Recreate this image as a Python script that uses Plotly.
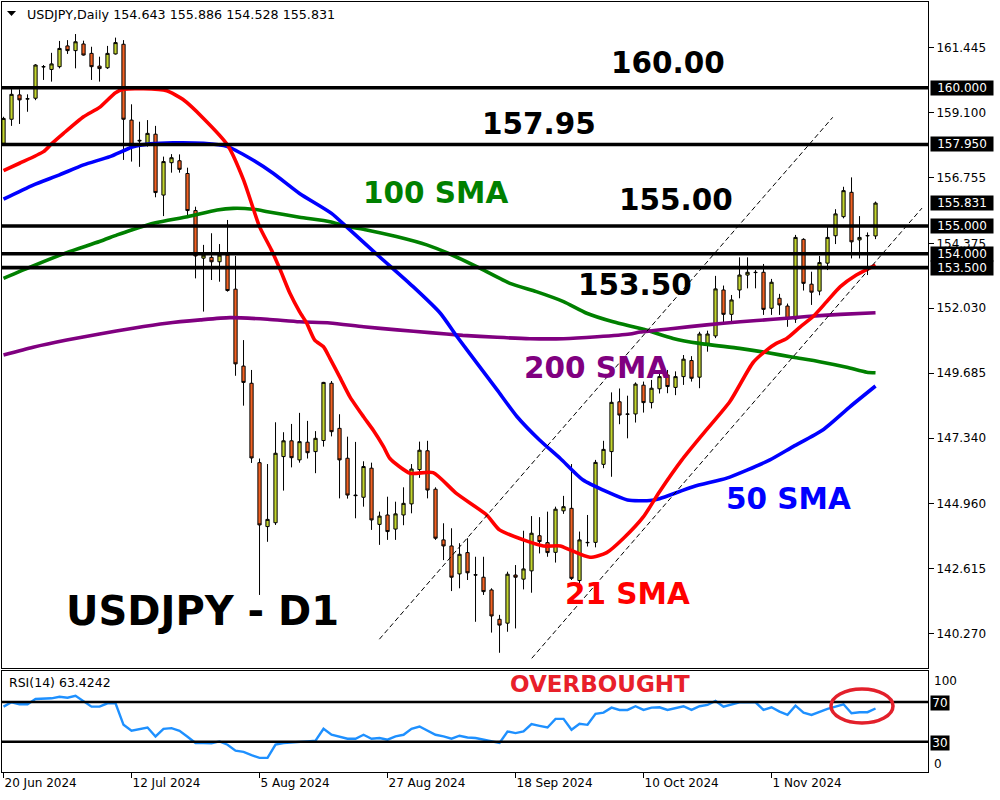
import pandas as pd
import plotly.graph_objects as go

# ---------------- data ----------------
dates = pd.bdate_range("2024-06-20", periods=110)
date_names = [f"{d.day} {d.strftime('%b %Y')}" for d in dates]

opens = [157.99, 158.86, 159.74, 159.59, 159.62, 160.75, 160.66, 160.76, 161.51, 161.34,
         161.58, 161.24, 160.78, 160.72, 161.22, 161.57, 158.83, 158.10, 157.93, 158.32,
         156.12, 157.29, 157.36, 156.90, 155.56, 153.84, 153.87, 153.71, 153.95, 152.72,
         149.94, 149.32, 146.45, 144.14, 144.28, 146.67, 147.24, 146.55, 147.19, 146.85,
         147.25, 149.32, 147.69, 146.61, 145.28, 145.20, 146.25, 144.22, 144.56, 144.05,
         144.56, 144.96, 146.20, 146.88, 145.49, 143.66, 143.44, 142.43, 143.20, 142.40,
         142.31, 141.85, 140.79, 140.65, 142.39, 142.24, 142.54, 143.81, 143.56, 143.21,
         144.71, 144.80, 142.19, 143.57, 143.57, 146.39, 146.85, 148.65, 148.21, 148.21,
         149.25, 148.62, 149.12, 149.62, 149.17, 149.56, 150.14, 149.54, 150.76, 151.03,
         152.69, 151.81, 152.69, 153.23, 153.33, 153.33, 152.03, 152.39, 152.11, 151.64,
         154.52, 152.90, 152.65, 153.66, 154.65, 155.34, 156.22, 154.50, 154.66, 154.643]
highs = [158.95, 159.95, 159.94, 159.76, 160.85, 160.82, 161.26, 161.69, 161.72, 161.94,
         161.70, 161.48, 161.12, 161.51, 161.81, 161.72, 159.40, 158.77, 158.83, 158.62,
         157.51, 157.60, 157.59, 157.11, 155.70, 154.32, 154.74, 154.35, 155.22, 153.92,
         150.88, 149.80, 146.60, 146.40, 147.91, 147.55, 147.85, 148.25, 147.96, 147.59,
         149.37, 149.40, 148.20, 147.39, 147.20, 146.50, 146.45, 144.68, 145.22, 145.04,
         145.56, 146.40, 147.21, 147.24, 145.56, 144.26, 144.08, 143.54, 143.72, 143.05,
         143.05, 141.91, 140.95, 142.51, 142.75, 143.99, 144.52, 144.48, 144.68, 144.86,
         145.25, 146.40, 143.96, 144.56, 146.55, 147.24, 148.99, 149.13, 148.87, 149.35,
         149.38, 149.44, 149.75, 149.80, 149.75, 150.34, 150.30, 151.18, 151.22, 153.20,
         152.85, 152.51, 153.87, 153.87, 153.41, 153.63, 153.09, 152.55, 152.20, 154.68,
         154.56, 153.35, 153.92, 154.96, 155.61, 156.42, 156.76, 155.36, 154.77, 155.886]
lows = [157.90, 158.62, 158.69, 159.13, 159.55, 160.28, 160.22, 160.70, 161.22, 160.70,
        161.16, 160.28, 160.22, 160.68, 161.20, 157.39, 157.33, 157.14, 157.87, 156.04,
        155.36, 156.93, 156.93, 155.40, 153.11, 151.91, 153.05, 152.99, 152.63, 149.59,
        148.51, 146.44, 141.67, 143.59, 144.20, 145.44, 146.28, 146.45, 146.60, 146.07,
        147.03, 147.40, 145.16, 145.15, 144.44, 144.86, 144.02, 143.48, 143.66, 143.66,
        144.19, 144.62, 145.90, 145.16, 143.66, 142.93, 141.81, 141.91, 142.21, 140.70,
        141.67, 140.31, 139.58, 140.34, 140.46, 141.87, 141.75, 143.17, 143.05, 142.84,
        144.60, 142.21, 142.00, 143.42, 143.39, 146.25, 145.94, 147.84, 147.33, 147.90,
        148.26, 148.41, 148.95, 148.96, 148.89, 149.26, 149.38, 149.14, 150.46, 150.95,
        151.48, 151.49, 152.39, 152.75, 152.75, 151.79, 151.79, 151.79, 151.36, 151.50,
        152.67, 152.15, 152.50, 153.41, 154.35, 155.28, 153.83, 153.83, 153.23, 154.528]
closes = [158.89, 159.76, 159.56, 159.60, 160.82, 160.76, 160.86, 161.42, 161.34, 161.66,
          161.18, 160.76, 160.69, 161.24, 161.63, 158.86, 157.87, 158.08, 158.35, 156.21,
          157.33, 157.47, 157.05, 155.56, 153.92, 153.95, 153.71, 153.95, 152.67, 150.02,
          149.35, 146.62, 144.20, 144.40, 146.79, 147.24, 146.63, 147.21, 146.81, 147.33,
          149.35, 147.57, 146.55, 145.28, 145.26, 146.31, 144.38, 144.52, 143.96, 144.60,
          144.98, 146.22, 146.90, 145.46, 143.72, 143.44, 142.31, 143.14, 142.47, 142.39,
          141.79, 140.91, 140.58, 142.42, 142.31, 142.61, 143.90, 143.60, 143.20, 144.77,
          144.86, 142.27, 143.66, 143.56, 146.46, 146.93, 148.63, 148.17, 148.20, 149.29,
          148.62, 149.14, 149.56, 149.20, 149.56, 150.19, 149.50, 151.10, 151.10, 152.73,
          151.81, 152.33, 153.23, 153.33, 153.32, 151.99, 152.97, 152.15, 151.64, 154.59,
          152.93, 152.61, 153.68, 154.59, 155.44, 156.28, 154.43, 154.59, 154.65, 155.831]

rsi = [65.3, 69.7, 67.7, 67.7, 73.0, 73.5, 73.7, 75.3, 74.3, 76.3,
       70.5, 65.3, 65.3, 68.7, 68.7, 47.0, 41.0, 42.5, 44.3, 35.3,
       43.0, 43.7, 41.0, 35.0, 28.7, 28.7, 28.5, 30.3, 27.0, 21.0,
       19.7, 16.5, 13.7, 13.7, 27.0, 28.7, 29.0, 29.7, 30.3, 31.0,
       43.0, 37.0, 35.0, 33.0, 33.0, 37.0, 33.0, 33.7, 32.0, 35.3,
       37.0, 43.0, 45.3, 41.0, 37.0, 35.3, 33.0, 36.0, 34.3, 33.7,
       32.0, 29.7, 28.7, 40.3, 38.7, 40.3, 47.7, 46.0, 44.3, 53.0,
       53.0, 42.0, 48.0, 47.0, 58.0, 59.3, 64.3, 62.0, 62.0, 65.7,
       62.0, 64.3, 64.7, 62.0, 63.5, 65.7, 62.0, 65.7, 67.0, 71.0,
       65.3, 67.7, 69.7, 69.7, 69.7, 62.0, 64.7, 60.3, 57.0, 66.3,
       59.3, 57.0, 60.3, 63.0, 65.3, 67.7, 58.7, 59.7, 59.7, 63.42]

# moving averages (bar position, value)
sma21_x = [0, 2, 5, 6, 7.5, 10, 12, 14, 15, 17.5, 20.4, 22.4, 25, 28, 30, 32, 33.5, 34.6, 35.8, 37,
           37.9, 38.9, 40, 40.8, 42, 43.3, 45, 46.2, 47.5, 48.3, 50.8, 53.7, 56.6, 60.4, 62, 65, 67.5,
           69.6, 70.8, 73.3, 75.4, 77.5, 80, 82, 84.8, 87.5, 90.8, 93.7, 95.4, 96.6, 97.9, 99.6,
           101.2, 102.9, 104.6, 106.6, 109]
sma21_y = [157.00, 157.27, 157.69, 157.97, 158.35, 158.95, 159.29, 159.82, 159.94, 159.96, 159.89,
           159.58, 158.89, 157.93, 156.67, 154.98, 154.13, 153.41, 152.57, 151.91, 151.49, 150.88,
           150.64, 150.22, 149.56, 148.83, 148.11, 147.63, 147.03, 146.60, 146.07, 146.09, 145.34,
           144.56, 144.02, 143.66, 143.44, 143.44, 143.30, 143.03, 143.20, 143.72, 144.50, 145.40,
           146.55, 147.51, 148.66, 150.07, 150.52, 150.76, 150.94, 151.36, 151.73, 152.27, 152.81,
           153.23, 153.59]
sma50_x = [0, 3.7, 7, 10, 13.3, 16.2, 18.3, 21.2, 25, 28, 30.8, 33.7, 37, 41, 43.3, 47, 51.2, 54.6,
           56.7, 59.2, 61.7, 64.2, 67, 69.6, 72.4, 75.4, 78, 80.8, 82, 86.2, 90.4, 93, 95.8, 98.7,
           102.4, 105.8, 109]
sma50_y = [155.97, 156.48, 156.85, 157.21, 157.51, 157.87, 157.97, 158.01, 157.99, 157.87, 157.45,
           156.91, 156.18, 155.46, 154.86, 153.89, 152.81, 151.85, 151.00, 150.04, 149.08, 148.11,
           147.27, 146.60, 145.83, 145.40, 145.10, 145.08, 145.15, 145.58, 145.89, 146.19, 146.55,
           147.03, 147.63, 148.47, 149.22]
sma100_x = [0, 3.7, 7.9, 12, 14.2, 16, 19, 23, 26.7, 28.7, 31.2, 33, 37, 40.8, 42.7, 45.4, 49.1,
            52.9, 55.8, 59.6, 63.3, 66.6, 70, 72.9, 76.2, 80, 83.7, 87, 92, 95.4, 98.7, 102, 105.4,
            107.9, 109]
sma100_y = [153.11, 153.56, 154.04, 154.44, 154.68, 154.86, 155.12, 155.34, 155.58, 155.64, 155.61,
            155.52, 155.32, 155.16, 155.00, 154.86, 154.62, 154.32, 153.99, 153.47, 152.93, 152.63,
            152.27, 151.85, 151.54, 151.27, 150.94, 150.76, 150.58, 150.43, 150.26, 150.10, 149.90,
            149.72, 149.70]
sma200_x = [0, 3.7, 7.9, 12, 16.2, 20.4, 24.6, 28.3, 33, 37, 40.8, 45, 49.2, 53.3, 57.4, 61.7, 65.8,
            70, 74.2, 78.3, 79.6, 83.7, 87.9, 92.1, 96.2, 100.4, 104.6, 109]
sma200_y = [150.34, 150.62, 150.88, 151.10, 151.31, 151.49, 151.61, 151.69, 151.63, 151.54, 151.50,
            151.36, 151.25, 151.15, 151.05, 150.98, 150.93, 150.93, 151.00, 151.10, 151.17, 151.30,
            151.43, 151.54, 151.63, 151.73, 151.81, 151.87]

levels = [160.00, 157.95, 155.00, 154.00, 153.50]
last_price = 155.831
price_ticks = [161.445, 159.100, 156.755, 154.375, 152.030, 149.685, 147.340, 144.960, 142.615, 140.270]
date_ticks = ["20 Jun 2024", "12 Jul 2024", "5 Aug 2024", "27 Aug 2024",
              "18 Sep 2024", "10 Oct 2024", "1 Nov 2024"]
chan_upper_x = [46.98, 103.65]
chan_upper_y = [140.07, 158.93]
chan_lower_x = [66.03, 114.81]
chan_lower_y = [139.38, 155.65]
rsi_levels = [70, 30]
header = "USDJPY,Daily 154.643 155.886 154.528 155.831"

# ---------------- layout helpers ----------------
W, H = 1000, 800
ML, MR, MT, MB = 2, 72, 2, 28
PW, PH = W - ML - MR, H - MT - MB


def pxx(p):
    return (p - ML) / PW


def pxy(p):
    return (MT + PH - p) / PH


XR = [-0.19, 115.56]
YR = [139.03, 163.097]
RR = [-0.5, 101.2]
FONT = "DejaVu Sans"
BULL, BEAR = "#c3d52e", "#f26122"

xs = list(range(len(closes)))
fig = go.Figure()

fig.add_trace(go.Candlestick(
    x=xs, open=opens, high=highs, low=lows, close=closes,
    increasing=dict(line=dict(color="black", width=1), fillcolor=BULL),
    decreasing=dict(line=dict(color="black", width=1), fillcolor=BEAR),
    whiskerwidth=0, hoverinfo="skip", xaxis="x", yaxis="y"))

for sx, sy, col in [(sma100_x, sma100_y, "#008000"), (sma200_x, sma200_y, "#800080"),
                    (sma50_x, sma50_y, "#0000ff"), (sma21_x, sma21_y, "#ff0000")]:
    fig.add_trace(go.Scatter(x=sx, y=sy, mode="lines",
                             line=dict(color=col, width=3.6, shape="spline", smoothing=0.6),
                             hoverinfo="skip", xaxis="x", yaxis="y"))

for cx, cy in [(chan_upper_x, chan_upper_y), (chan_lower_x, chan_lower_y)]:
    fig.add_trace(go.Scatter(x=cx, y=cy, mode="lines",
                             line=dict(color="black", width=1, dash="5px,3px"),
                             hoverinfo="skip", xaxis="x", yaxis="y"))

for lv in levels:
    fig.add_trace(go.Scatter(x=XR, y=[lv, lv], mode="lines", line=dict(color="black", width=3.6),
                             hoverinfo="skip", xaxis="x", yaxis="y"))

fig.add_trace(go.Scatter(x=xs, y=rsi, mode="lines", line=dict(color="#1e90ff", width=2.4),
                         hoverinfo="skip", xaxis="x2", yaxis="y2"))
for lv in rsi_levels:
    fig.add_trace(go.Scatter(x=XR, y=[lv, lv], mode="lines", line=dict(color="black", width=2.4),
                             hoverinfo="skip", xaxis="x2", yaxis="y2"))

ann = []
# header + indicator caption
ann.append(dict(text=header, x=pxx(25), y=pxy(14), xref="paper", yref="paper", xanchor="left",
                yanchor="middle", showarrow=False, font=dict(family=FONT, size=12.7, color="#000")))
ann.append(dict(text="RSI(14) 63.4242", x=pxx(7), y=pxy(682.5), xref="paper", yref="paper",
                xanchor="left", yanchor="middle", showarrow=False,
                font=dict(family=FONT, size=12.5, color="#000")))

big = [("160.00", 668, 62.5, "#000000", 29.5), ("157.95", 539, 123.5, "#000000", 29.5),
       ("155.00", 675.5, 200, "#000000", 29.5), ("153.50", 635, 285, "#000000", 29.5),
       ("100 SMA", 435.5, 192.5, "#008000", 29.5), ("200 SMA", 596, 367.5, "#800080", 29.5),
       ("50 SMA", 788, 499, "#0000ff", 29.5), ("21 SMA", 627.5, 594, "#ff0000", 29.5),
       ("USDJPY - D1", 202, 611, "#000000", 40), ("OVERBOUGHT", 599.5, 684, "#e8202a", 23)]
for t, cx, cy, col, sz in big:
    ann.append(dict(text=t, x=pxx(cx), y=pxy(cy), xref="paper", yref="paper", xanchor="center",
                    yanchor="middle", showarrow=False,
                    font=dict(family=FONT, size=sz, color=col, weight=700)))

# boxed price tags on the right axis
for lv in levels + [last_price]:
    ann.append(dict(text=f"{lv:.3f}", x=pxx(930), y=lv, xref="paper", yref="y", xanchor="left",
                    yanchor="middle", showarrow=False, bgcolor="black", width=60, height=12,
                    borderpad=1, align="center", font=dict(family=FONT, size=12, color="white")))
# RSI scale labels
for t, py, boxed in [("100", 681, False), ("70", 703, True), ("30", 743, True), ("0", 764, False)]:
    if boxed:
        ann.append(dict(text=t, x=pxx(930), y=pxy(py), xref="paper", yref="paper", xanchor="left",
                        yanchor="middle", showarrow=False, bgcolor="black", width=16, height=12,
                        borderpad=1, align="center", font=dict(family=FONT, size=12, color="white")))
    else:
        ann.append(dict(text=t, x=pxx(932), y=pxy(py), xref="paper", yref="paper", xanchor="left",
                        yanchor="middle", showarrow=False, font=dict(family=FONT, size=12, color="#000")))

shapes = [
    dict(type="path", xref="paper", yref="paper", line=dict(width=0), fillcolor="black",
         path=f"M {pxx(7)} {pxy(11)} L {pxx(16)} {pxy(11)} L {pxx(11.5)} {pxy(16)} Z"),
    dict(type="circle", xref="paper", yref="paper", x0=pxx(831), x1=pxx(893), y0=pxy(689), y1=pxy(723),
         line=dict(color="#e3202b", width=3.5)),
]

tick_pos = [date_names.index(d) for d in date_ticks]

fig.update_layout(
    width=W, height=H, margin=dict(l=ML, r=MR, t=MT, b=MB),
    paper_bgcolor="white", plot_bgcolor="white", showlegend=False, hovermode=False,
    boxgap=0.42,
    annotations=ann, shapes=shapes,
    xaxis=dict(domain=[0, 1], range=XR, anchor="y", showgrid=False, zeroline=False,
               showticklabels=False, ticks="", showline=True, mirror=True, linecolor="black",
               linewidth=1, rangeslider=dict(visible=False), fixedrange=True),
    yaxis=dict(domain=[pxy(668), 1], range=YR, side="right", anchor="x", showgrid=False,
               zeroline=False, tickvals=price_ticks, ticktext=[f"{v:.3f}" for v in price_ticks],
               ticks="outside", ticklen=5, tickcolor="black", showline=True, mirror=True,
               linecolor="black", linewidth=1, tickfont=dict(family=FONT, size=12, color="black"),
               fixedrange=True),
    xaxis2=dict(domain=[0, 1], range=XR, anchor="y2", showgrid=False, zeroline=False,
                tickvals=tick_pos, ticktext=date_ticks, ticks="outside", ticklen=5,
                tickcolor="black", ticklabelposition="outside right",
                tickfont=dict(family=FONT, size=12, color="black"), showline=True, mirror=True,
                linecolor="black", linewidth=1, fixedrange=True),
    yaxis2=dict(domain=[0, pxy(671)], range=RR, side="right", anchor="x2", showgrid=False,
                zeroline=False, showticklabels=False, ticks="", showline=True, mirror=True,
                linecolor="black", linewidth=1, fixedrange=True),
)

fig.write_html("out.html", config={"displayModeBar": False},
               post_script="document.body.style.margin='0px';document.body.style.padding='0px';")
